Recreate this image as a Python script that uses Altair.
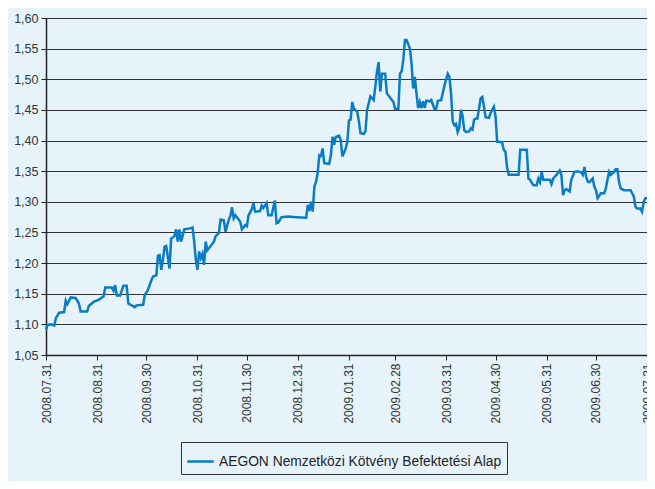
import altair as alt
import pandas as pd

# Days after 2008.07.31 and fund price
day_offsets = [
    0, 1, 3, 5, 6, 8, 11, 12, 13, 15, 18, 20, 21, 25, 26, 29, 32, 35, 36, 40,
    41, 42, 43, 45, 47, 49, 50, 54, 55, 59, 60, 61, 62, 64, 65, 67, 68, 69, 70, 71,
    72, 73, 74, 75, 76, 78, 79, 80, 81, 82, 84, 88, 89, 90, 91, 92, 93, 94, 95, 96,
    97, 98, 100, 102, 103, 105, 106, 108, 109, 111, 112, 113, 114, 115, 117, 118, 119, 121, 122, 123,
    125, 126, 127, 130, 131, 132, 134, 135, 137, 139, 140, 141, 143, 147, 152, 158, 159, 160, 161, 162,
    163, 164, 165, 166, 167, 168, 169, 172, 173, 174, 175, 176, 178, 179, 180, 182, 183, 184, 185, 186,
    187, 189, 190, 191, 193, 194, 195, 197, 199, 200, 201, 202, 203, 204, 206, 207, 209, 211, 212, 214,
    215, 216, 217, 218, 219, 221, 222, 223, 224, 225, 226, 227, 228, 229, 230, 231, 233, 234, 236, 237,
    238, 240, 242, 244, 245, 246, 247, 248, 249, 250, 251, 252, 253, 254, 255, 257, 258, 259, 260, 261,
    262, 264, 265, 266, 267, 269, 270, 272, 273, 274, 275, 277, 278, 279, 280, 281, 287, 288, 292, 293,
    294, 296, 298, 299, 300, 301, 302, 304, 306, 307, 308, 310, 312, 313, 314, 315, 316, 318, 319, 321,
    323, 325, 326, 327, 328, 329, 330, 332, 333, 334, 335, 337, 339, 340, 341, 342, 343, 345, 346, 347,
    348, 349, 351, 353, 355, 356, 357, 358, 359, 361, 362, 363, 364, 365,
]
prices = [
    1.092, 1.099, 1.100, 1.098, 1.110, 1.119, 1.120, 1.139, 1.133, 1.144, 1.143, 1.134, 1.121, 1.121, 1.130, 1.137, 1.140, 1.146, 1.160, 1.160,
    1.155, 1.164, 1.147, 1.147, 1.163, 1.163, 1.134, 1.128, 1.131, 1.132, 1.148, 1.152, 1.157, 1.172, 1.178, 1.180, 1.212, 1.213, 1.189, 1.205,
    1.227, 1.228, 1.210, 1.191, 1.240, 1.244, 1.255, 1.235, 1.255, 1.235, 1.255, 1.257, 1.258, 1.235, 1.205, 1.189, 1.219, 1.208, 1.215, 1.197,
    1.235, 1.221, 1.228, 1.235, 1.244, 1.249, 1.271, 1.270, 1.251, 1.271, 1.277, 1.291, 1.273, 1.278, 1.271, 1.267, 1.255, 1.262, 1.260, 1.278,
    1.288, 1.298, 1.284, 1.285, 1.294, 1.290, 1.298, 1.278, 1.278, 1.302, 1.265, 1.266, 1.275, 1.276, 1.275, 1.274, 1.295, 1.285, 1.300, 1.284,
    1.325, 1.333, 1.347, 1.376, 1.375, 1.387, 1.363, 1.362, 1.376, 1.406, 1.393, 1.406, 1.408, 1.401, 1.374, 1.387, 1.398, 1.433, 1.434, 1.463,
    1.452, 1.447, 1.432, 1.412, 1.411, 1.415, 1.450, 1.472, 1.466, 1.488, 1.512, 1.528, 1.480, 1.509, 1.509, 1.477, 1.470, 1.463, 1.452, 1.452,
    1.509, 1.513, 1.532, 1.564, 1.564, 1.550, 1.526, 1.485, 1.504, 1.477, 1.453, 1.463, 1.453, 1.464, 1.453, 1.465, 1.464, 1.466, 1.451, 1.452,
    1.465, 1.466, 1.490, 1.509, 1.504, 1.477, 1.431, 1.425, 1.427, 1.414, 1.421, 1.450, 1.440, 1.417, 1.414, 1.415, 1.420, 1.418, 1.434, 1.436,
    1.436, 1.469, 1.471, 1.455, 1.438, 1.437, 1.445, 1.455, 1.440, 1.398, 1.398, 1.397, 1.385, 1.382, 1.357, 1.344, 1.344, 1.385, 1.385, 1.338,
    1.336, 1.327, 1.327, 1.338, 1.332, 1.349, 1.336, 1.336, 1.336, 1.329, 1.338, 1.344, 1.351, 1.344, 1.311, 1.319, 1.321, 1.317, 1.336, 1.349,
    1.350, 1.348, 1.344, 1.357, 1.341, 1.333, 1.332, 1.338, 1.325, 1.319, 1.306, 1.314, 1.314, 1.322, 1.336, 1.349, 1.344, 1.349, 1.353, 1.353,
    1.333, 1.322, 1.319, 1.319, 1.319, 1.314, 1.309, 1.292, 1.289, 1.289, 1.284, 1.300, 1.306, 1.306,
]
series_name = "AEGON Nemzetközi Kötvény Befektetési Alap"
start_date = "2008-07-31"
tick_dates = [
    (2008, 7, 31), (2008, 8, 31), (2008, 9, 30), (2008, 10, 31), (2008, 11, 30), (2008, 12, 31),
    (2009, 1, 31), (2009, 2, 28), (2009, 3, 31), (2009, 4, 30), (2009, 5, 31), (2009, 6, 30), (2009, 7, 31),
]
y_ticks = [1.05, 1.10, 1.15, 1.20, 1.25, 1.30, 1.35, 1.40, 1.45, 1.50, 1.55, 1.60]

dates = pd.Timestamp(start_date) + pd.to_timedelta(day_offsets, unit="D")
df = pd.DataFrame({
    "date": dates.strftime("%Y-%m-%dT00:00:00"),
    "price": prices,
    "series": series_name,
    "idx": list(range(len(prices))),
})

BG = "#e6f3fa"
LINE = "#0a7cc3"
FONT = "Liberation Sans"

chart = alt.Chart(df).mark_line(strokeWidth=2.5).encode(
    x=alt.X(
        "date:T",
        scale=alt.Scale(domain=[alt.DateTime(year=2008, month=7, date=31),
                                alt.DateTime(year=2009, month=7, date=31)]),
        axis=alt.Axis(
            title=None,
            values=[alt.DateTime(year=y, month=m, date=d) for (y, m, d) in tick_dates],
            format="%Y.%m.%d",
            labelAngle=270,
            grid=False,
            labelFontSize=12,
            labelColor="#333333",
            labelFont=FONT,
            tickSize=5,
            tickColor="#222222",
            domainColor="#222222",
            domainWidth=1.5,
            labelPadding=3,
        ),
    ),
    y=alt.Y(
        "price:Q",
        scale=alt.Scale(domain=[1.05, 1.60], nice=False, zero=False),
        axis=alt.Axis(
            title=None,
            values=y_ticks,
            labelExpr="replace(format(datum.value, '.2f'), '.', ',')",
            grid=True,
            gridColor="#333333",
            gridWidth=1,
            labelFontSize=12.5,
            labelColor="#333333",
            labelFont=FONT,
            tickSize=5,
            tickColor="#222222",
            domainColor="#222222",
            domainWidth=1.5,
            labelPadding=3,
        ),
    ),
    color=alt.Color(
        "series:N",
        scale=alt.Scale(range=[LINE]),
        legend=alt.Legend(
            title=None,
            orient="none",
            legendX=135,
            legendY=424,
            symbolType="stroke",
            symbolSize=700,
            symbolStrokeWidth=2.5,
            labelFontSize=13.8,
            labelFont=FONT,
            labelColor="#222222",
            labelLimit=0,
            strokeColor="#333333",
            padding=5,
            fillColor=BG,
        ),
    ),
    order="idx:Q",
).properties(
    width=601,
    height=337,
    background=BG,
    padding={"left": 38, "top": 10, "right": 0, "bottom": 126},
    autosize=alt.AutoSizeParams(type="none"),
).configure_view(
    stroke="#333333",
    strokeWidth=1,
)

chart.save("out.html", embed_options={"renderer": "svg", "actions": False})
